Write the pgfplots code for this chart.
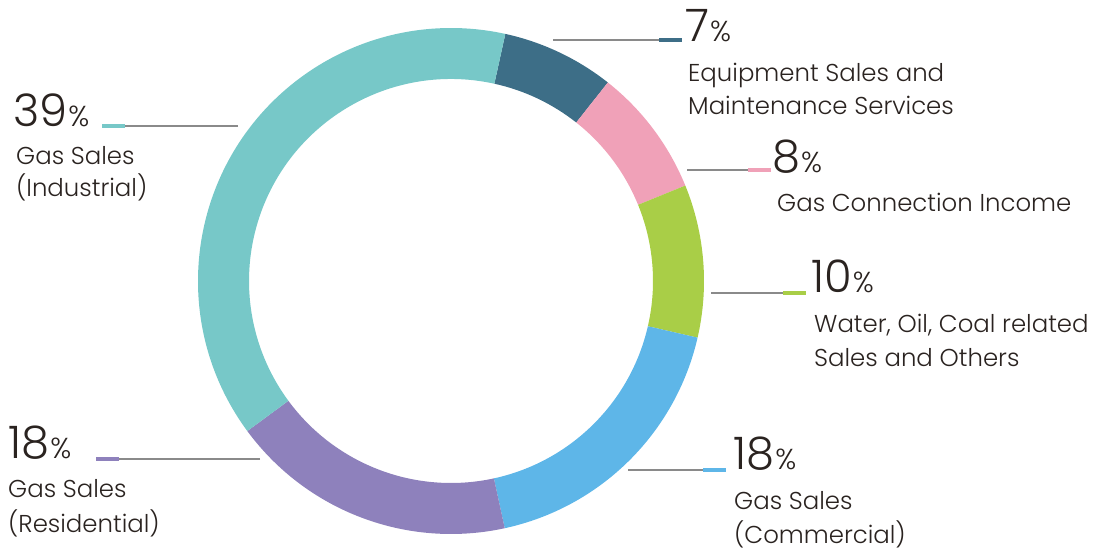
\documentclass[border=0pt]{standalone}
\usepackage{pgfplots}
\pgfplotsset{compat=1.18}
\usepackage{pgfplotstable}
\usepackage{fontspec}
\setmainfont{Poppins}[UprightFont={* Light}]
\definecolor{cEquip}{HTML}{3D6E87}
\definecolor{cConn}{HTML}{F0A1B8}
\definecolor{cWater}{HTML}{A9CE47}
\definecolor{cComm}{HTML}{5EB6E8}
\definecolor{cRes}{HTML}{8E81BC}
\definecolor{cInd}{HTML}{77C8C8}
\definecolor{txt}{HTML}{2A2320}
\definecolor{lead}{HTML}{8A8A8A}
\pgfplotstableread{
name value col
Equipment 7.2 cEquip
Connection 8.2 cConn
Water 9.75 cWater
Commercial 18.0 cComm
Residential 18.3 cRes
Industrial 38.55 cInd
}\slices
\newcommand{\pct}[1]{{\fontsize{45}{45}\selectfont #1}{\fontsize{29}{29}\selectfont\kern1bp\%}}
\begin{document}
\begin{tikzpicture}
\begin{axis}[width=1097bp,height=553bp,scale only axis,
  xmin=0,xmax=1097,ymin=0,ymax=553,hide axis,clip=false]
\pgfplotsextra{
  \path (axis cs:0,0) rectangle (axis cs:1097,553);
  \gdef\cum{3.444}
  \pgfplotstablegetrowsof{\slices}
  \pgfmathtruncatemacro\nrows{\pgfplotsretval-1}
  \foreach \i in {0,...,\nrows}{
    \pgfplotstablegetelem{\i}{value}\of{\slices}\let\v\pgfplotsretval
    \pgfplotstablegetelem{\i}{col}\of{\slices}\let\c\pgfplotsretval
    \pgfmathsetmacro\aS{90-\cum*3.6}
    \pgfmathsetmacro\aE{90-(\cum+\v)*3.6}
    \pgfmathsetmacro\newcum{\cum+\v}\global\let\cum\newcum
    \fill[fill=\c] (axis cs:451,272) ++(\aS:253bp) arc[start angle=\aS, end angle=\aE, radius=253bp]
      -- ++({\aE+180}:51bp) arc[start angle=\aE, end angle=\aS, radius=202bp] -- cycle;
  }
  % leader lines
  \draw[lead, line width=1.5bp] (axis cs:553,513) -- (axis cs:659,513);
  \draw[cEquip, line width=4bp] (axis cs:659,513) -- (axis cs:682,513);
  \draw[lead, line width=1.5bp] (axis cs:238,427) -- (axis cs:125,427);
  \draw[cInd, line width=4bp] (axis cs:125,427) -- (axis cs:102,427);
  \draw[lead, line width=1.5bp] (axis cs:687,383) -- (axis cs:748,383);
  \draw[cConn, line width=4bp] (axis cs:748,383) -- (axis cs:771,383);
  \draw[lead, line width=1.5bp] (axis cs:711,260) -- (axis cs:783,260);
  \draw[cWater, line width=4bp] (axis cs:783,260) -- (axis cs:806,260);
  \draw[lead, line width=1.5bp] (axis cs:628,83) -- (axis cs:703,83);
  \draw[cComm, line width=4bp] (axis cs:703,83) -- (axis cs:726,83);
  \draw[lead, line width=1.5bp] (axis cs:260,94) -- (axis cs:119,94);
  \draw[cRes, line width=4bp] (axis cs:119,94) -- (axis cs:96,94);
  % labels
  \begin{scope}[every node/.style={anchor=base west, inner sep=0pt, text=txt, font=\fontsize{24.5}{24.5}\selectfont}]
  \node at (axis cs:685,511) {\pct{7}};
  \node at (axis cs:688,471) {Equipment Sales and};
  \node at (axis cs:688,438) {Maintenance Services};
  \node at (axis cs:13,426) {\pct{39}};
  \node at (axis cs:16,388) {Gas Sales};
  \node at (axis cs:16,356) {(Industrial)};
  \node at (axis cs:772,380) {\pct{8}};
  \node at (axis cs:777,341) {Gas Connection Income};
  \node at (axis cs:811,260) {\pct{10}};
  \node at (axis cs:814,220) {Water, Oil, Coal related};
  \node at (axis cs:814,186) {Sales and Others};
  \node at (axis cs:733,83) {\pct{18}};
  \node at (axis cs:734,43) {Gas Sales};
  \node at (axis cs:734,10) {(Commercial)};
  \node at (axis cs:8,94) {\pct{18}};
  \node at (axis cs:8,55) {Gas Sales};
  \node at (axis cs:8,21) {(Residential)};
  \end{scope}
}
\end{axis}
\end{tikzpicture}
\end{document}
